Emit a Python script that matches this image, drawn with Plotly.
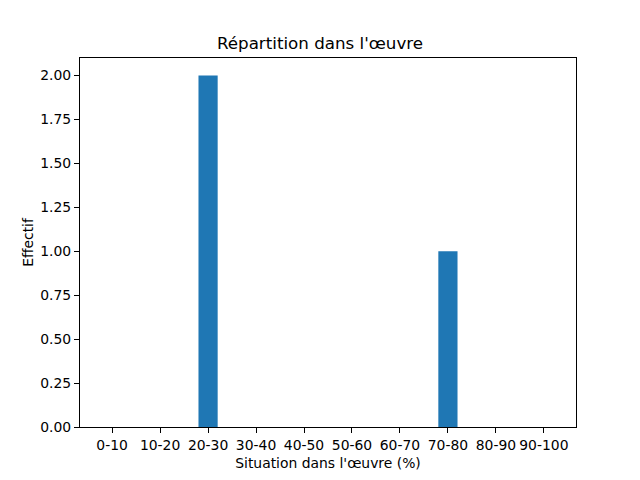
import plotly.graph_objects as go

categories = ["0-10", "10-20", "20-30", "30-40", "40-50", "50-60", "60-70", "70-80", "80-90", "90-100"]
counts = [0, 0, 2, 0, 0, 0, 0, 1, 0, 0]
y_ticks = [0.0, 0.25, 0.5, 0.75, 1.0, 1.25, 1.5, 1.75, 2.0]

positions = list(range(len(categories)))
font = "DejaVu Sans"

fig = go.Figure(go.Bar(x=positions, y=counts, width=0.4, marker=dict(color="#1f77b4", line=dict(width=0))))

fig.update_layout(
    width=640, height=480,
    margin=dict(l=80, r=64, t=58, b=53),
    paper_bgcolor="white", plot_bgcolor="white",
    font=dict(family=font, size=13.9, color="black"),
    title=dict(text="Répartition dans l'œuvre", x=0.5, xanchor="center", y=1 - 43 / 480, yanchor="middle",
               font=dict(size=16.7, family=font, color="black")),
    showlegend=False,
)
fig.update_xaxes(
    range=[-0.67, 9.67], tickmode="array", tickvals=positions, ticktext=categories,
    showgrid=False, zeroline=False, showline=True, mirror=True, linecolor="black", linewidth=1.1,
    ticks="outside", ticklen=5, tickwidth=1.1, tickcolor="black",
    title=dict(text="Situation dans l'œuvre (%)", standoff=6, font=dict(size=13.9)),
    tickfont=dict(size=13.9), automargin=False,
)
fig.update_yaxes(
    range=[0, 2.1], tickmode="array", tickvals=y_ticks, ticktext=[f"{v:.2f}" for v in y_ticks],
    showgrid=False, zeroline=False, showline=True, mirror=True, linecolor="black", linewidth=1.1,
    ticks="outside", ticklen=5, tickwidth=1.1, tickcolor="black",
    title=dict(text="Effectif", standoff=3, font=dict(size=13.9)),
    tickfont=dict(size=13.9), automargin=False,
)

fig.write_html("out.html", config={"displayModeBar": False},
               post_script="document.body.style.margin='0';")
